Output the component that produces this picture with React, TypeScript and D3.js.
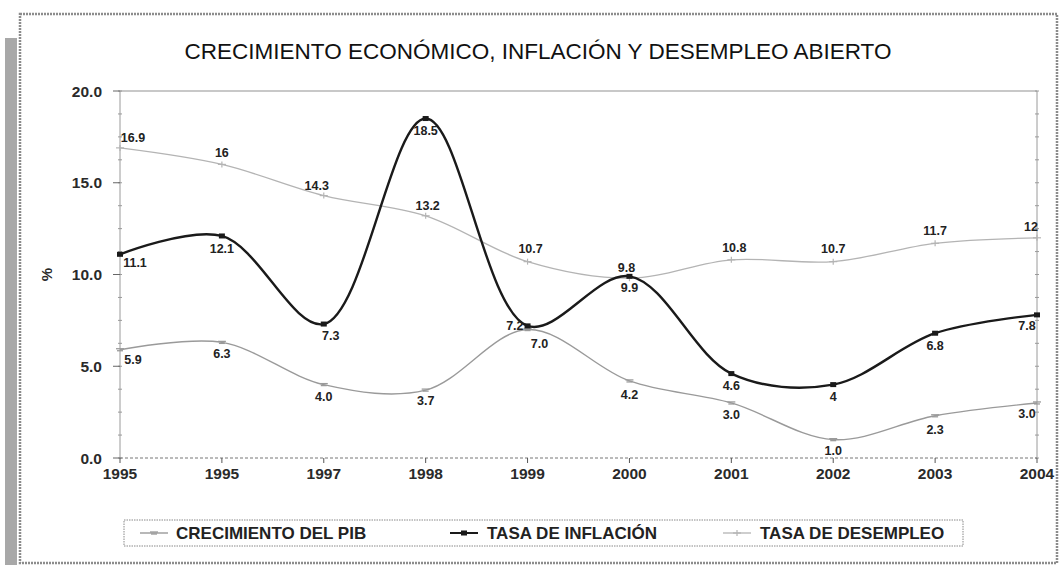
import React from "react";
import * as d3 from "d3";

const years = ["1995", "1995", "1997", "1998", "1999", "2000", "2001", "2002", "2003", "2004"];
const gdp = [5.9, 6.3, 4.0, 3.7, 7.0, 4.2, 3.0, 1.0, 2.3, 3.0];
const gdpLabels = ["5.9", "6.3", "4.0", "3.7", "7.0", "4.2", "3.0", "1.0", "2.3", "3.0"];
const inflation = [11.1, 12.1, 7.3, 18.5, 7.2, 9.9, 4.6, 4.0, 6.8, 7.8];
const inflationLabels = ["11.1", "12.1", "7.3", "18.5", "7.2", "9.9", "4.6", "4", "6.8", "7.8"];
const unemployment = [16.9, 16.0, 14.3, 13.2, 10.7, 9.8, 10.8, 10.7, 11.7, 12.0];
const unemploymentLabels = ["16.9", "16", "14.3", "13.2", "10.7", "9.8", "10.8", "10.7", "11.7", "12"];
const yTicks = [0, 5, 10, 15, 20];

const W = 1060, H = 568;
const L = 120, R = 1037, T = 91, B = 458;
const FONT = "'Liberation Sans', Arial, sans-serif";

// label offsets [dx, dy, anchor]
type Place = [number, number, string];
const gdpPlace: Place[] = [[13, 14, "middle"], [0, 16, "middle"], [0, 16, "middle"], [0, 15, "middle"], [12, 18, "middle"], [0, 18, "middle"], [0, 16, "middle"], [0, 15, "middle"], [0, 18, "middle"], [-10, 15, "middle"]];
const infPlace: Place[] = [[15, 13, "middle"], [0, 17, "middle"], [7, 16, "middle"], [0, 16, "middle"], [-4, 4, "end"], [0, 16, "middle"], [0, 16, "middle"], [0, 16, "middle"], [0, 17, "middle"], [-10, 15, "middle"]];
const unPlace: Place[] = [[13, -6, "middle"], [0, -7, "middle"], [-7, -6, "middle"], [2, -6, "middle"], [3, -9, "middle"], [-3, -6, "middle"], [3, -8, "middle"], [0, -9, "middle"], [0, -8, "middle"], [-6, -7, "middle"]];

export default function App() {
  const x = d3.scaleLinear().domain([0, years.length - 1]).range([L, R]);
  const y = d3.scaleLinear().domain([0, 20]).range([B, T]);
  const line = d3.line<number>().x((_, i) => x(i)).y((d) => y(d)).curve(d3.curveCatmullRom.alpha(0.5));

  const minor = d3.range(0, 20.01, 1.25);

  const series = [
    { vals: gdp, labels: gdpLabels, place: gdpPlace, color: "#9a9a9a", width: 1.4, marker: "dash" },
    { vals: unemployment, labels: unemploymentLabels, place: unPlace, color: "#b4b4b4", width: 1.3, marker: "plus" },
    { vals: inflation, labels: inflationLabels, place: infPlace, color: "#1a1a1a", width: 2.4, marker: "square" },
  ];

  const marker = (kind: string, cx: number, cy: number, color: string, key: any) => {
    if (kind === "square") return <rect key={key} x={cx - 3} y={cy - 2.5} width={6} height={5} fill={color} />;
    if (kind === "plus")
      return (
        <g key={key} stroke={color} strokeWidth={1.2}>
          <line x1={cx - 4} x2={cx + 4} y1={cy} y2={cy} />
          <line x1={cx} x2={cx} y1={cy - 3} y2={cy + 3} />
        </g>
      );
    return (
      <g key={key} stroke={color} strokeWidth={1.3}>
        <line x1={cx - 4} x2={cx + 4} y1={cy - 1} y2={cy - 1} />
        <line x1={cx - 3} x2={cx + 3} y1={cy + 1} y2={cy + 1} />
      </g>
    );
  };

  const legendItems = [
    { label: "CRECIMIENTO DEL PIB", color: "#9a9a9a", width: 1.4, marker: "dash", lx: 140, tx: 176 },
    { label: "TASA DE INFLACIÓN", color: "#1a1a1a", width: 2, marker: "square", lx: 450, tx: 487 },
    { label: "TASA DE DESEMPLEO", color: "#b4b4b4", width: 1.3, marker: "plus", lx: 723, tx: 760 },
  ];

  return (
    <div style={{ position: "fixed", left: 0, top: 0 }}>
      <svg width={W} height={H} style={{ display: "block", background: "#fff" }}>
        {/* frame shadow and border */}
        <rect x={5} y={38} width={12} height={527} fill="#a8a8a8" />
        <rect x={20} y={14} width={1037} height={549} fill="#fff" stroke="#8c8c8c" strokeWidth={2.5} strokeDasharray="2 1" />

        <text x={538} y={59} textAnchor="middle" fontFamily="'Liberation Sans', Arial, sans-serif" fontSize={22.5} fill="#111">
          CRECIMIENTO ECONÓMICO, INFLACIÓN Y DESEMPLEO ABIERTO
        </text>

        {/* top gridline */}
        <line x1={L} x2={R} y1={T} y2={T} stroke="#c8c8c8" strokeWidth={2} />
        {/* left axis */}
        <line x1={L} x2={L} y1={T} y2={B} stroke="#9a9a9a" strokeWidth={1} />
        {minor.map((v, i) => (
          <line key={"ml" + i} x1={L - 2} x2={L + 2} y1={y(v)} y2={y(v)} stroke="#9a9a9a" />
        ))}
        {yTicks.map((v) => (
          <g key={"yt" + v}>
            <line x1={L - 7} x2={L} y1={y(v)} y2={y(v)} stroke="#666" />
            <text x={L - 18} y={y(v) + 5.5} textAnchor="end" fontFamily={FONT} fontWeight="bold" fontSize={15.5} fill="#2a2a2a">
              {v.toFixed(1)}
            </text>
          </g>
        ))}
        {/* right axis */}
        <line x1={R} x2={R} y1={T} y2={B} stroke="#9a9a9a" strokeWidth={1} />
        {minor.map((v, i) => (
          <line key={"mr" + i} x1={R - 2} x2={R + 2} y1={y(v)} y2={y(v)} stroke="#9a9a9a" />
        ))}
        {/* bottom axis */}
        <line x1={L} x2={R} y1={B} y2={B} stroke="#777" strokeWidth={1} strokeDasharray="3 2" />
        {years.map((yr, i) => (
          <g key={"xt" + i}>
            <line x1={x(i)} x2={x(i)} y1={B} y2={B + 5} stroke="#555" />
            <text x={x(i)} y={B + 21} textAnchor="middle" fontFamily={FONT} fontWeight="bold" fontSize={15.5} fill="#2a2a2a">
              {yr}
            </text>
          </g>
        ))}

        <text transform={`translate(52,${(T + B) / 2}) rotate(-90)`} textAnchor="middle" fontFamily={FONT} fontWeight="bold" fontSize={15} fill="#2a2a2a">
          %
        </text>

        {series.map((s, si) => (
          <g key={"s" + si}>
            <path d={line(s.vals) || ""} fill="none" stroke={s.color} strokeWidth={s.width} />
            {s.vals.map((v, i) => marker(s.marker, x(i), y(v), s.color, "m" + i))}
            {s.vals.map((v, i) => (
              <text
                key={"l" + i}
                x={x(i) + s.place[i][0]}
                y={y(v) + s.place[i][1]}
                textAnchor={s.place[i][2] as any}
                fontFamily={FONT}
                fontWeight="bold"
                fontSize={12.5}
                fill="#222"
              >
                {s.labels[i]}
              </text>
            ))}
          </g>
        ))}

        {/* legend */}
        <rect x={124} y={520} width={839} height={26} fill="#fff" stroke="#888" strokeWidth={1} strokeDasharray="1.5 1" />
        {legendItems.map((it, i) => (
          <g key={"lg" + i}>
            <line x1={it.lx} x2={it.lx + 28} y1={533} y2={533} stroke={it.color} strokeWidth={it.width} />
            {marker(it.marker, it.lx + 14, 533, it.color, "lm" + i)}
            <text x={it.tx} y={539} fontFamily={FONT} fontWeight="bold" fontSize={17} fill="#222">
              {it.label}
            </text>
          </g>
        ))}
      </svg>
    </div>
  );
}
